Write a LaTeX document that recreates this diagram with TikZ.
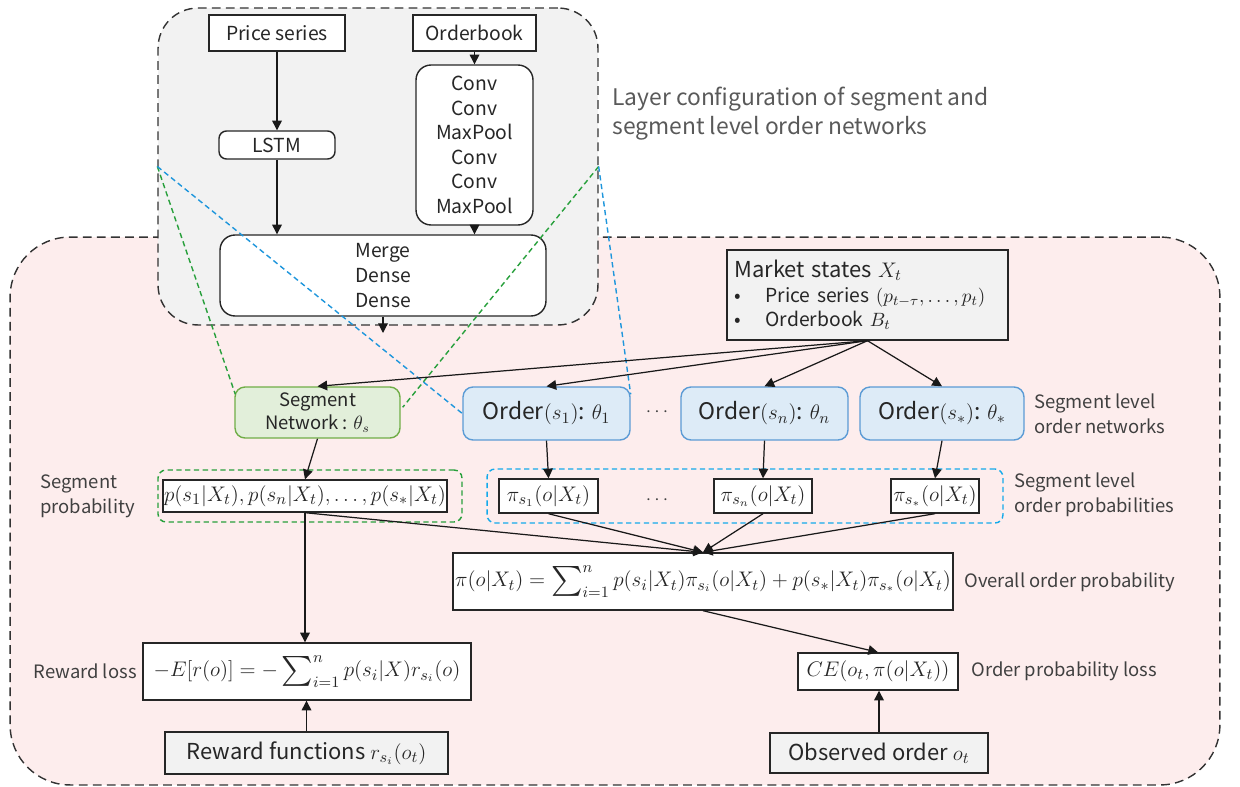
\documentclass[tikz,border=0pt]{standalone}
\usepackage{fontspec}
\setmainfont{Noto Sans CJK JP}
\usetikzlibrary{arrows.meta,calc}
\definecolor{pinkbg}{RGB}{253,237,237}
\definecolor{graybg}{RGB}{242,242,242}
\definecolor{greenfill}{RGB}{226,239,218}
\definecolor{greenline}{RGB}{112,173,71}
\definecolor{bluefill}{RGB}{221,235,247}
\definecolor{blueline}{RGB}{91,155,213}
\definecolor{greendash}{RGB}{40,160,60}
\definecolor{bluedash}{RGB}{30,150,220}
\definecolor{cyandash}{RGB}{20,170,235}
\definecolor{inktext}{RGB}{38,38,38}
\definecolor{labeltext}{RGB}{64,64,64}
\definecolor{captext}{RGB}{89,89,89}
% large summation sign with side limits
\newcommand{\bigsum}{\mathop{\vcenter{\hbox{\scalebox{1.7}{$\sum$}}}}\nolimits}
\begin{document}
\begin{tikzpicture}[x=0.02cm,y=-0.02cm,
  box/.style={draw=black!85, line width=0.8pt, fill=white, inner sep=0pt, text=inktext,
              align=center, font=\fontsize{11}{14}\selectfont},
  rbox/.style={box, rounded corners=0.3cm},
  mathbox/.style={box, font=\fontsize{12.5}{15}\selectfont},
  netbox/.style={rounded corners=0.2cm, line width=0.8pt, inner sep=0pt, align=center, text=inktext},
  segstyle/.style={netbox, draw=greenline, fill=greenfill, font=\fontsize{10.5}{13}\selectfont},
  ordstyle/.style={netbox, draw=blueline, fill=bluefill, font=\fontsize{13}{15}\selectfont},
  note/.style={text=labeltext, align=left, font=\fontsize{10.5}{14}\selectfont, inner sep=0pt},
  frame/.style={draw=black!80, dashed, line width=0.8pt, dash pattern=on 5pt off 3pt},
  group/.style={dashed, line width=0.8pt, rounded corners=0.16cm, dash pattern=on 3pt off 2pt, inner sep=0pt},
  zoomline/.style={dashed, line width=0.8pt, dash pattern=on 3pt off 2pt},
  arr/.style={-{Triangle[length=5.5pt,width=5.5pt]}, line width=0.7pt, draw=black!90},
  ln/.style={line width=0.7pt, draw=black!90}]
\useasboundingbox (0,0) rectangle (1240,787);

% outer frame of the full model
\node[frame, fill=pinkbg, rounded corners=1.2cm, minimum width=24.2cm, minimum height=10.96cm] (model) at (615,511) {};

% network layer frame
\node[frame, fill=graybg, rounded corners=0.8cm, minimum width=8.8cm, minimum height=6.34cm] (layers) at (378,166.5) {};

\node[box, minimum width=2.72cm, minimum height=0.72cm] (price) at (277,33) {Price series};
\node[box, minimum width=2.46cm, minimum height=0.72cm] (obook) at (474.5,33) {Orderbook};
\node[rbox, rounded corners=0.15cm, minimum width=2.32cm, minimum height=0.56cm] (lstm) at (277,145) {LSTM};
\node[rbox, minimum width=2.34cm, minimum height=3.2cm] (conv) at (474.5,145)
  {Conv\\Conv\\MaxPool\\Conv\\Conv\\MaxPool};
\node[rbox, minimum width=6.52cm, minimum height=1.62cm] (merge) at (383,275.5) {Merge\\Dense\\Dense};
\coordinate (mergeout) at (383,333);

\draw[arr] (price.south) -- (lstm.north);
\draw[arr] (lstm.south) -- (lstm.south |- merge.north);
\draw[arr] (obook.south) -- (conv.north);
\draw[arr] (conv.south) -- (conv.south |- merge.north);
\draw[arr] (merge.south) -- (mergeout);

\node[note, text=captext, font=\fontsize{13}{16.5}\selectfont, anchor=west] (laycap) at (612,114)
  {Layer configuration of segment and\\segment level order networks};

% market state input
\node[box, fill=graybg, minimum width=5.62cm, minimum height=1.8cm, text width=5.32cm, align=left,
      inner xsep=0.15cm, font=\fontsize{11}{14}\selectfont] (market) at (867.5,295)
  {{\fontsize{12.5}{15}\selectfont Market states $X_t$}\\
   \makebox[0.62cm][l]{\textbullet}Price series $(p_{t-\tau},\ldots,p_t)$\\
   \makebox[0.62cm][l]{\textbullet}Orderbook $B_t$};

% networks
\node[segstyle, minimum width=3.3cm, minimum height=1.02cm] (segnet) at (317.5,412.5)
  {Segment\\Network : $\theta_s$};
\node[ordstyle, minimum width=3.34cm, minimum height=1.06cm] (ord1) at (546.5,413.5) {Order$(s_1)$: $\theta_1$};
\node[ordstyle, minimum width=3.34cm, minimum height=1.06cm] (ordn) at (764.5,413.5) {Order$(s_n)$: $\theta_n$};
\node[ordstyle, minimum width=3.28cm, minimum height=1.06cm] (ords) at (942,413.5) {Order$(s_*)$: $\theta_*$};
\node[note, font=\fontsize{11}{14}\selectfont] (dotsa) at (657,412) {$\cdots$};
\node[note, anchor=west] (ordcap) at (1034,414) {Segment level\\order networks};

% zoom lines from the layer frame to the networks
\draw[zoomline, draw=greendash] (layers.west) -- ($(segnet.north west)+(1,8)$);
\draw[zoomline, draw=greendash] (layers.east) -- ($(segnet.north east)+(2,21)$);
\draw[zoomline, draw=bluedash] (layers.west) -- (ord1.west);
\draw[zoomline, draw=bluedash] (layers.east) -- ($(ord1.north east)+(0,8)$);

\draw[arr] (market.south) -- (segnet.north);
\draw[arr] (market.south) -- (ord1.north);
\draw[arr] (market.south) -- (ordn.north);
\draw[arr] (market.south) -- (ords.north);

% probability outputs
\node[group, draw=greendash, minimum width=6.08cm, minimum height=1.04cm] (pgroup) at (310,496) {};
\node[group, draw=cyandash, minimum width=10.32cm, minimum height=1.08cm] (pigroup) at (745,496) {};
\node[mathbox, minimum width=5.68cm, minimum height=0.64cm] (pbox) at (305,496)
  {$p(s_1|X_t),p(s_n|X_t),\ldots,p(s_*|X_t)$};
\node[mathbox, minimum width=1.98cm, minimum height=0.68cm] (pi1) at (548.5,496) {$\pi_{s_1}(o|X_t)$};
\node[mathbox, minimum width=1.96cm, minimum height=0.68cm] (pin) at (763,496) {$\pi_{s_n}(o|X_t)$};
\node[mathbox, minimum width=1.76cm, minimum height=0.68cm] (pis) at (935,496) {$\pi_{s_*}(o|X_t)$};
\node[note, font=\fontsize{11}{14}\selectfont] (dotsb) at (657,500) {$\cdots$};
\node[note, anchor=west] (pcap) at (40,496) {Segment\\probability};
\node[note, anchor=west] (picap) at (1014,495) {Segment level\\order probabilities};

\draw[arr] (segnet.south) -- (pbox.north);
\draw[arr] (ord1.south) -- (pi1.north);
\draw[arr] (ordn.south) -- (pin.north);
\draw[arr] (ords.south) -- (pis.north);

% combined order probability
\node[mathbox, minimum width=10cm, minimum height=1.14cm] (overall) at (703,581.5)
  {$\pi(o|X_t)=\bigsum_{i=1}^{n} p(s_i|X_t)\pi_{s_i}(o|X_t)+p(s_*|X_t)\pi_{s_*}(o|X_t)$};
\node[note, anchor=west] (ovcap) at (964,582) {Overall order probability};

\draw[arr] (pbox.south) -- (overall.north);
\draw[arr] (pi1.south) -- (overall.north);
\draw[arr] (pin.south) -- (overall.north);
\draw[arr] (pis.south) -- (overall.north);

% losses
\node[mathbox, minimum width=6.56cm, minimum height=1.14cm] (reward) at (307,671.5)
  {$-E[r(o)]=-\bigsum_{i=1}^{n} p(s_i|X)r_{s_i}(o)$};
\node[note, anchor=east] (rewcap) at (137,671) {Reward loss};
\node[box, fill=graybg, minimum width=5.66cm, minimum height=0.84cm, font=\fontsize{12.5}{15}\selectfont]
  (rewfun) at (306.5,753) {Reward functions $r_{s_i}(o_t)$};

\node[mathbox, minimum width=3.2cm, minimum height=0.74cm] (ce) at (878,671.5) {$CE\big(o_t,\pi(o|X_t)\big)$};
\node[note, anchor=west] (cecap) at (971,671) {Order probability loss};
\node[box, fill=graybg, minimum width=4.36cm, minimum height=0.8cm, font=\fontsize{12.5}{15}\selectfont]
  (obs) at (879,753) {Observed order $o_t$};

\draw[arr] (pbox.south) -- (pbox.south |- reward.north);
\draw[arr] (rewfun.north) -- (rewfun.north |- reward.south);
\draw[arr] (overall.south) -- (ce.north);
\draw[arr] (obs.north) -- (obs.north |- ce.south);
\end{tikzpicture}
\end{document}
